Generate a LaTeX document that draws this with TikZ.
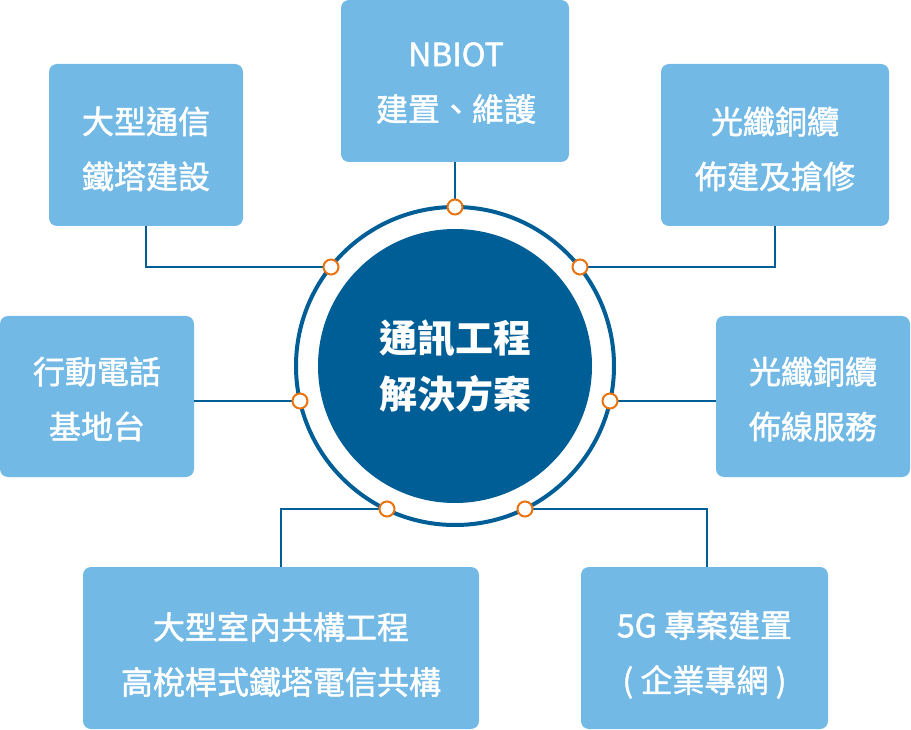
\documentclass[tikz,border=0pt]{standalone}
\usepackage{fontspec}
\newfontfamily\cjk{Noto Sans CJK TC}
\newfontfamily\cjkm[FakeBold=1.5]{Noto Sans CJK TC}
\definecolor{boxblue}{HTML}{72B9E6}
\definecolor{darkblue}{HTML}{005E97}
\definecolor{dotorange}{HTML}{E8730F}
\tikzset{
  boxnode/.style={rectangle, rounded corners=8pt, fill=boxblue, inner sep=0pt},
  boxtext/.style={inner sep=0pt, text=white, align=center,
    font=\cjkm\fontsize{32}{55}\selectfont},
  dotnode/.style={circle, draw=dotorange, line width=2pt, fill=white,
    minimum size=15pt, inner sep=0pt},
  link/.style={draw=darkblue, line width=2pt},
}
\begin{document}
\begin{tikzpicture}[x=1pt,y=-1pt]
\useasboundingbox (0,0) rectangle (911,730);
% central circle
\draw[darkblue, line width=4pt, fill=white] (455,366) circle[radius=159];
\node[circle, fill=darkblue, minimum size=274pt, inner sep=0pt, text=white, align=center,
  font=\cjk\bfseries\fontsize{38}{56}\selectfont] (hub) at (455,366) {通訊工程\\解決方案};
% boxes
\node[boxnode, minimum width=194pt, minimum height=162pt] (tl) at (146,145) {};
\node[boxnode, minimum width=228pt, minimum height=162pt] (top) at (455,81) {};
\node[boxnode, minimum width=228pt, minimum height=162pt] (tr) at (775,145) {};
\node[boxnode, minimum width=194pt, minimum height=161pt] (lf) at (97,396.5) {};
\node[boxnode, minimum width=194pt, minimum height=161pt] (rt) at (813,396.5) {};
\node[boxnode, minimum width=396pt, minimum height=162pt] (bl) at (281,648) {};
\node[boxnode, minimum width=247pt, minimum height=162pt] (br) at (704.5,648) {};
% box texts
\node[boxtext] (tlt) at (146,149) {大型通信\\鐵塔建設};
\node[boxtext] (topt) at (456,83) {NBIOT\\建置、維護};
\node[boxtext] (trt) at (775,149) {光纖銅纜\\佈建及搶修};
\node[boxtext] (lft) at (97,399) {行動電話\\基地台};
\node[boxtext] (rtt) at (813,399) {光纖銅纜\\佈線服務};
\node[boxtext] (blt) at (281,654.5) {大型室內共構工程\\高梲桿式鐵塔電信共構};
\node[boxtext] (brt) at (704.5,654.5) {5G 專案建置\\( 企業專網 )};
% dot positions
\coordinate (p0) at (455,207);
\coordinate (p1) at (331,267);
\coordinate (p2) at (580,267);
\coordinate (p3) at (300,401);
\coordinate (p4) at (610,401);
\coordinate (p5) at (387,509);
\coordinate (p6) at (525,509);
% connectors
\draw[link] (top.south) -- (p0);
\draw[link] (tl.south) |- (p1);
\draw[link] (tr.south) |- (p2);
\draw[link] (lf.east |- p3) -- (p3);
\draw[link] (rt.west |- p4) -- (p4);
\draw[link] (bl.north) |- (p5);
\draw[link] ([xshift=2.5pt]br.north) |- (p6);
% dots
\foreach \i in {0,...,6} \node[dotnode] (d\i) at (p\i) {};
\end{tikzpicture}
\end{document}
